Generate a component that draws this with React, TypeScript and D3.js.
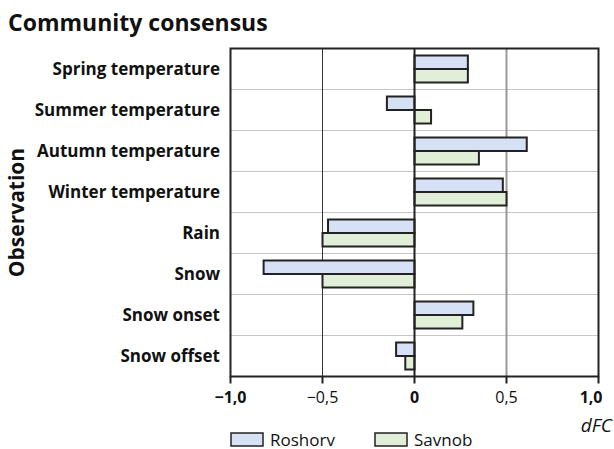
import React, { useEffect, useRef } from 'react';
import * as d3 from 'd3';

const categories = [
  'Spring temperature',
  'Summer temperature',
  'Autumn temperature',
  'Winter temperature',
  'Rain',
  'Snow',
  'Snow onset',
  'Snow offset',
];
const seriesNames = ['Roshorv', 'Savnob'];
const roshorv = [0.29, -0.15, 0.61, 0.48, -0.47, -0.82, 0.32, -0.1];
const savnob = [0.29, 0.09, 0.35, 0.5, -0.5, -0.5, 0.26, -0.05];
const xTicks = [-1, -0.5, 0, 0.5, 1];
const xTickLabels = ['\u22121,0', '\u22120,5', '0', '0,5', '1,0'];

const colors = ['#d6e1f5', '#e2efd8'];
const font = "'Open Sans', 'Noto Sans', sans-serif";

const App: React.FC = () => {
  const svgRef = useRef<SVGSVGElement>(null);

  useEffect(() => {
    const svg = d3.select(svgRef.current);
    svg.selectAll('*').remove();

    const W = 614;
    const H = 449;
    const left = 230.5;
    const right = 598.5;
    const top = 48.5;
    const bottom = 376.5;

    svg.attr('width', W).attr('height', H).style('font-family', font);

    const x = d3.scaleLinear().domain([-1, 1]).range([left, right]);
    const y = d3.scaleBand<string>().domain(categories).range([top, bottom]).paddingInner(0).paddingOuter(0);
    const inner = d3.scaleBand<string>().domain(seriesNames).range([7, y.bandwidth() - 7]);

    // title
    svg.append('text')
      .attr('x', 8).attr('y', 31)
      .style('font-size', '23px').style('font-weight', 'bold')
      .attr('fill', '#111')
      .text('Community consensus');

    // horizontal grid
    categories.forEach((c, i) => {
      if (i === 0) return;
      svg.append('line')
        .attr('x1', left).attr('x2', right)
        .attr('y1', y(c)!).attr('y2', y(c)!)
        .attr('stroke', '#c6c6c6').attr('stroke-width', 1);
    });

    // vertical grid
    svg.append('line').attr('x1', x(-0.5)).attr('x2', x(-0.5)).attr('y1', top).attr('y2', bottom)
      .attr('stroke', '#333').attr('stroke-width', 1);
    svg.append('line').attr('x1', x(0.5)).attr('x2', x(0.5)).attr('y1', top).attr('y2', bottom)
      .attr('stroke', '#999').attr('stroke-width', 2);

    // bars
    const series = [roshorv, savnob];
    series.forEach((vals, si) => {
      svg.append('g').selectAll('rect')
        .data(vals)
        .enter()
        .append('rect')
        .attr('x', d => x(Math.min(0, d)))
        .attr('width', d => Math.abs(x(d) - x(0)))
        .attr('y', (_, i) => y(categories[i])! + inner(seriesNames[si])!)
        .attr('height', inner.bandwidth())
        .attr('fill', colors[si])
        .attr('stroke', '#222')
        .attr('stroke-width', 2);
    });

    // zero line
    svg.append('line').attr('x1', x(0)).attr('x2', x(0)).attr('y1', top).attr('y2', bottom)
      .attr('stroke', '#222').attr('stroke-width', 2);

    // frame
    svg.append('rect')
      .attr('x', left).attr('y', top)
      .attr('width', right - left).attr('height', bottom - top)
      .attr('fill', 'none').attr('stroke', '#222').attr('stroke-width', 2);

    // x ticks
    xTicks.forEach((t, i) => {
      svg.append('line')
        .attr('x1', x(t)).attr('x2', x(t))
        .attr('y1', bottom).attr('y2', bottom + 7)
        .attr('stroke', '#222').attr('stroke-width', 2);
      svg.append('text')
        .attr('x', x(t)).attr('y', bottom + 26)
        .attr('text-anchor', i === 4 ? 'end' : 'middle')
        .attr('dx', i === 4 ? 4 : 0)
        .style('font-size', '16px')
        .style('font-weight', i % 2 === 0 ? 'bold' : 'normal')
        .attr('fill', '#111')
        .text(xTickLabels[i]);
    });

    // category labels
    categories.forEach(c => {
      svg.append('text')
        .attr('x', 220).attr('y', y(c)! + y.bandwidth() / 2)
        .attr('dy', '0.35em')
        .attr('text-anchor', 'end')
        .style('font-size', '17px').style('font-weight', 'bold')
        .attr('fill', '#111')
        .text(c);
    });

    // y title
    svg.append('text')
      .attr('transform', `translate(24,${(top + bottom) / 2}) rotate(-90)`)
      .attr('text-anchor', 'middle')
      .style('font-size', '21px').style('font-weight', 'bold')
      .attr('fill', '#111')
      .text('Observation');

    // x title
    svg.append('text')
      .attr('x', 612).attr('y', 432)
      .attr('text-anchor', 'end')
      .style('font-size', '19px').style('font-style', 'italic')
      .attr('fill', '#111')
      .text('dFC');

    // legend
    const legendX = [231, 375];
    seriesNames.forEach((s, i) => {
      svg.append('rect')
        .attr('x', legendX[i]).attr('y', 433)
        .attr('width', 32).attr('height', 13)
        .attr('fill', colors[i]).attr('stroke', '#222').attr('stroke-width', 1.5);
      svg.append('text')
        .attr('x', legendX[i] + 39).attr('y', 446)
        .style('font-size', '17px')
        .attr('fill', '#111')
        .text(s);
    });
  }, []);

  return <svg ref={svgRef} style={{ position: 'absolute', left: 0, top: 0 }}></svg>;
};

export default App;
